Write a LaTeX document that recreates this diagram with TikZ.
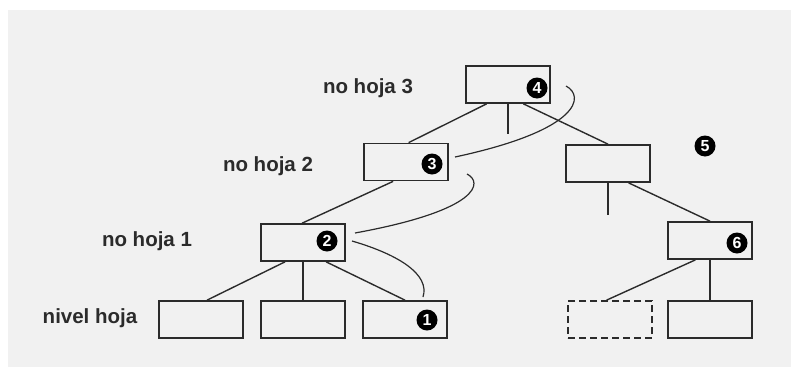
\documentclass[tikz,border=0pt]{standalone}
\usepackage{fontspec}
\setmainfont{Liberation Sans}
\usetikzlibrary{calc}
\definecolor{panel}{HTML}{F1F1F1}
\definecolor{ink}{HTML}{2B2B2B}
\tikzset{
  blk/.style={draw=ink, line width=1.7pt, minimum width=84pt, minimum height=37pt, inner sep=0pt},
  ghost/.style={blk, dashed, dash pattern=on 7pt off 4pt},
  edge/.style={draw=ink, line width=1.4pt},
  lvl/.style={font=\bfseries\fontsize{20.5}{22}\selectfont, text=ink},
  badge/.style={circle, fill=black, minimum size=21pt, inner sep=0pt,
    text=white, font=\bfseries\fontsize{16}{16}\selectfont}
}
\begin{document}
\begin{tikzpicture}[x=1pt, y=-1pt]
  \useasboundingbox (0,0) rectangle (791,367);
  \fill[panel] (8,10) rectangle (791,367);

  % level labels
  \node[lvl] (t3) at (368,88) {no hoja 3};
  \node[lvl] (t2) at (268,166) {no hoja 2};
  \node[lvl] (t1) at (147,241) {no hoja 1};
  \node[lvl] (t0) at (90,318) {nivel hoja};

  % tree nodes
  \node[blk] (r)  at (508,84.5) {};
  \node[blk] (a)  at (406,162) {};
  \node[blk] (b)  at (608,163.5) {};
  \node[blk] (c)  at (303,242.5) {};
  \node[blk] (d)  at (710,240.5) {};
  \node[blk] (l1) at (201,319.5) {};
  \node[blk] (l2) at (303,319.5) {};
  \node[blk] (l3) at (405,319.5) {};
  \node[ghost] (l4) at (610,319.5) {};
  \node[blk] (l5) at (710,319.5) {};

  % dangling child pointers
  \coordinate (rs) at ($(r.south)+(0,30)$);
  \coordinate (bs) at ($(b.south)+(0,32)$);

  % connectors
  \draw[edge] ($(r.south west)!0.25!(r.south east)$) -- ($(a.north west)!0.53!(a.north east)$);
  \draw[edge] (r.south) -- (rs);
  \draw[edge] ($(r.south west)!0.68!(r.south east)$) -- (b.north);
  \draw[edge] ($(a.south west)!0.35!(a.south east)$) -- ($(c.north west)!0.49!(c.north east)$);
  \draw[edge] (b.south) -- (bs);
  \draw[edge] ($(b.south west)!0.74!(b.south east)$) -- (d.north);
  \draw[edge] ($(c.south west)!0.29!(c.south east)$) -- ($(l1.north west)!0.57!(l1.north east)$);
  \draw[edge] (c.south) -- (l2.north);
  \draw[edge] ($(c.south west)!0.77!(c.south east)$) -- (l3.north);
  \draw[edge] ($(d.south west)!0.33!(d.south east)$) -- ($(l4.north west)!0.46!(l4.north east)$);
  \draw[edge] (d.south) -- (l5.north);

  % step markers
  \node[badge] (m4) at (537,88) {4};
  \node[badge] (m3) at (432,164) {3};
  \node[badge] (m2) at (327,241) {2};
  \node[badge] (m1) at (427,320) {1};
  \node[badge] (m5) at (705,146) {5};
  \node[badge] (m6) at (737,243) {6};

  % traversal path
  \coordinate (p4a) at (566,86);
  \coordinate (p4b) at (455,157);
  \coordinate (p3a) at (467,174);
  \coordinate (p3b) at (355,233);
  \coordinate (p2a) at (352,241);
  \coordinate (p2b) at (423,297);
  \draw[edge, line width=1.2pt] (p4a) .. controls (585,96) and (581,130) .. (p4b);
  \draw[edge, line width=1.2pt] (p3a) .. controls (483,182) and (481,210) .. (p3b);
  \draw[edge, line width=1.2pt] (p2a) .. controls (400,255) and (430,275) .. (p2b);
\end{tikzpicture}
\end{document}
